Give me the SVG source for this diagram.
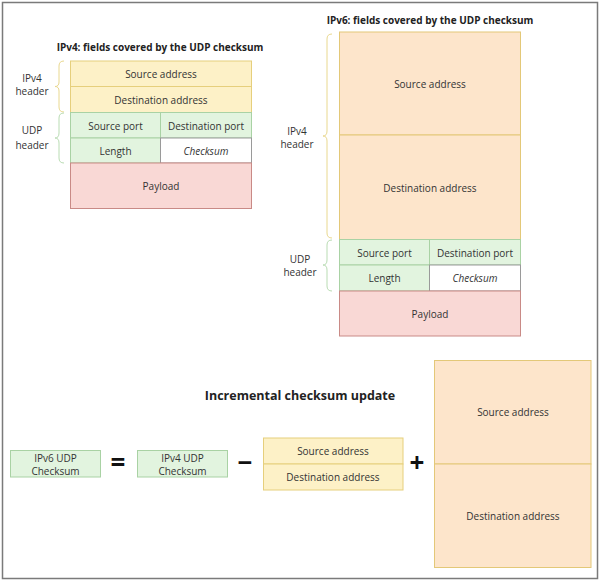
<svg xmlns="http://www.w3.org/2000/svg" width="600" height="581" viewBox="0 0 600 581">
<style>
text{font-family:"Open Sans","Noto Sans",sans-serif;fill:#333;font-size:10px;text-anchor:middle;dominant-baseline:central}
.t{font-weight:bold;fill:#222;font-size:10px}
.h{font-weight:bold;fill:#222;font-size:12.5px}
.op{font-weight:bold;fill:#111;font-size:26px}
.y{fill:#fdf1c7;stroke:#e6cf7c;stroke-width:1}
.o{fill:#fde5cb;stroke:#e3c878;stroke-width:1}
.g{fill:#e2f4df;stroke:#a9d2a4;stroke-width:1}
.w{fill:#ffffff;stroke:#9a9a9a;stroke-width:1}
.p{fill:#f9d8d5;stroke:#c98a86;stroke-width:1}
.by{fill:none;stroke:#e9d88f;stroke-width:1}
.bg{fill:none;stroke:#b9dcb3;stroke-width:1}
.i{font-style:italic}
</style>
<rect x="2.5" y="2.5" width="595" height="576" fill="#fff" stroke="#7a7a7a" stroke-width="1.5"/>

<g id="ipv4-title"><text class="t" x="160" y="47">IPv4: fields covered by the UDP checksum</text></g>
<g id="ipv4-src"><rect class="y" x="70.5" y="61" width="181" height="25.5"/><text x="161" y="74">Source address</text></g>
<g id="ipv4-dst"><rect class="y" x="70.5" y="86.5" width="181" height="26"/><text x="161" y="99.5">Destination address</text></g>
<g id="ipv4-sport"><rect class="g" x="70.5" y="112.5" width="90" height="25.5"/><text x="115.5" y="125.5">Source port</text></g>
<g id="ipv4-dport"><rect class="g" x="160.5" y="112.5" width="91" height="25.5"/><text x="206" y="125.5">Destination port</text></g>
<g id="ipv4-len"><rect class="g" x="70.5" y="138" width="90" height="25"/><text x="115.5" y="151">Length</text></g>
<g id="ipv4-csum"><rect class="w" x="160.5" y="138" width="91" height="25"/><text class="i" x="206" y="151">Checksum</text></g>
<g id="ipv4-payload"><rect class="p" x="70.5" y="163" width="181" height="45.5"/><text x="161" y="186">Payload</text></g>
<g id="ipv4-iphdr-label"><text x="32" y="78">IPv4</text><text x="32" y="91">header</text></g>
<g id="ipv4-udphdr-label"><text x="32" y="130">UDP</text><text x="32" y="145">header</text></g>

<g id="ipv6-title"><text class="t" x="430" y="20">IPv6: fields covered by the UDP checksum</text></g>
<g id="ipv6-src"><rect class="o" x="339.5" y="32" width="181" height="103"/><text x="430" y="84">Source address</text></g>
<g id="ipv6-dst"><rect class="o" x="339.5" y="135" width="181" height="104.5"/><text x="430" y="187.5">Destination address</text></g>
<g id="ipv6-sport"><rect class="g" x="339.5" y="239.5" width="90" height="25.5"/><text x="384.5" y="252.5">Source port</text></g>
<g id="ipv6-dport"><rect class="g" x="429.5" y="239.5" width="91" height="25.5"/><text x="475" y="252.5">Destination port</text></g>
<g id="ipv6-len"><rect class="g" x="339.5" y="265" width="90" height="26"/><text x="384.5" y="278">Length</text></g>
<g id="ipv6-csum"><rect class="w" x="429.5" y="265" width="91" height="26"/><text class="i" x="475" y="278">Checksum</text></g>
<g id="ipv6-payload"><rect class="p" x="339.5" y="291" width="181" height="45"/><text x="430" y="313.5">Payload</text></g>
<g id="ipv6-iphdr-label"><text x="297" y="131">IPv4</text><text x="297" y="144">header</text></g>
<g id="ipv6-udphdr-label"><text x="300" y="259">UDP</text><text x="300" y="272">header</text></g>

<g id="braces">
<path class="by" d="M64,61 Q59,61 59,66 L59,82 Q59,86.5 55,86.5 Q59,86.5 59,91 L59,107 Q59,112 64,112"/>
<path class="bg" d="M64,113 Q59,113 59,118 L59,133 Q59,138 55,138 Q59,138 59,143 L59,158 Q59,163 64,163"/>
<path class="by" d="M332,34 Q327,34 327,39 L327,131 Q327,136 323,136 Q327,136 327,141 L327,233 Q327,238 332,238"/>
<path class="bg" d="M332,240 Q327,240 327,245 L327,260 Q327,265 323,265 Q327,265 327,270 L327,286 Q327,291 332,291"/>
</g>

<g id="inc-title"><text class="h" x="300" y="395">Incremental checksum update</text></g>
<g id="v6csum"><rect class="g" x="10.5" y="450.5" width="90" height="26.5"/><text x="55.5" y="458">IPv6 UDP</text><text x="55.5" y="471">Checksum</text></g>
<g id="eq"><text class="op" x="118" y="462">=</text></g>
<g id="v4csum"><rect class="g" x="137.5" y="450.5" width="90" height="26.5"/><text x="182.5" y="458">IPv4 UDP</text><text x="182.5" y="471">Checksum</text></g>
<g id="minus"><text class="op" x="245" y="462">−</text></g>
<g id="v4addr"><rect class="y" x="263.5" y="438" width="139.5" height="26"/><text x="333" y="451">Source address</text><rect class="y" x="263.5" y="464" width="139.5" height="26"/><text x="333" y="477">Destination address</text></g>
<g id="plus"><text class="op" x="417" y="462">+</text></g>
<g id="v6addr"><rect class="o" x="434.5" y="360.5" width="156.5" height="103.5"/><text x="513" y="412">Source address</text><rect class="o" x="434.5" y="464" width="156.5" height="103.5"/><text x="513" y="516">Destination address</text></g>
</svg>
